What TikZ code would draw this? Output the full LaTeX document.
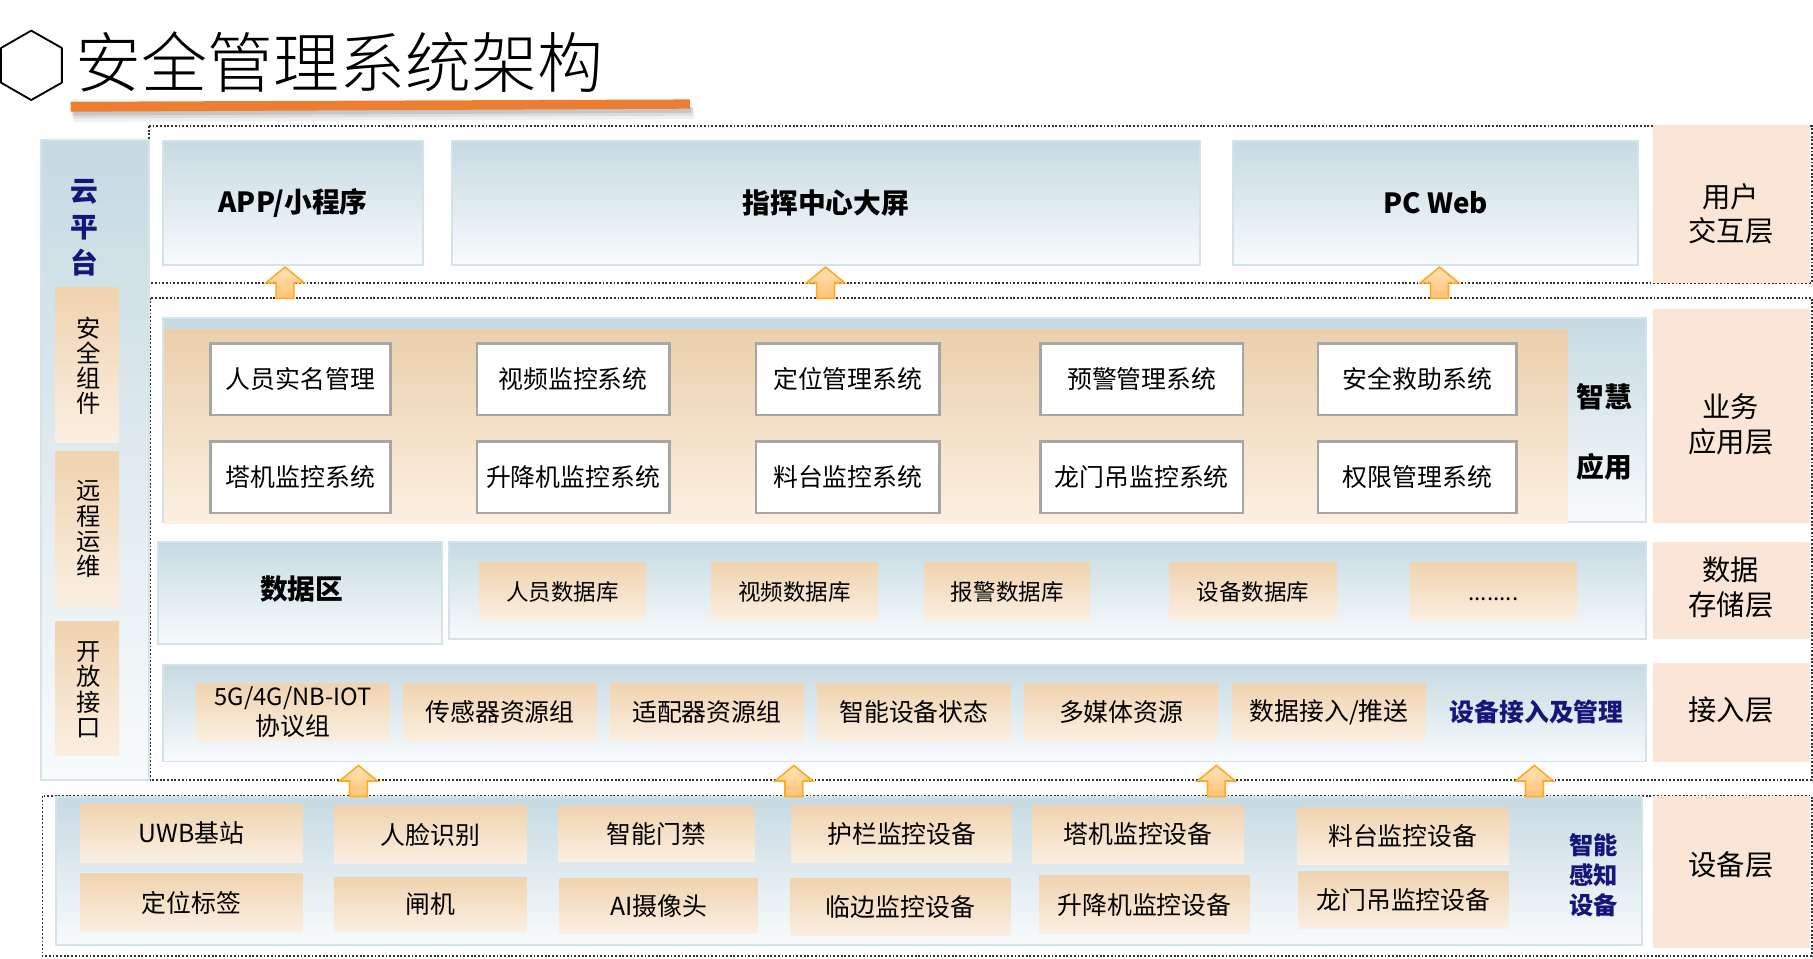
\documentclass[tikz,border=0pt]{standalone}
\usepackage{fontspec}
\setmainfont{Noto Sans CJK SC}
\newfontfamily\titlefont{Noto Sans CJK SC Light}
\definecolor{blueT}{HTML}{C6DAE2}
\definecolor{blueB}{HTML}{F8FBFC}
\definecolor{bluebd}{HTML}{D3E3E9}
\definecolor{orT}{HTML}{F0D3AF}
\definecolor{orB}{HTML}{FBEFE2}
\definecolor{busT}{HTML}{EACFAC}
\definecolor{busB}{HTML}{FDF0E1}
\definecolor{peach}{HTML}{FBE5D6}
\definecolor{navy}{HTML}{15157A}
\definecolor{grayb}{HTML}{A6A6A6}
\definecolor{dotc}{HTML}{333333}
\definecolor{titleline}{HTML}{ED7D31}
\definecolor{arrT}{HTML}{FFE3B8}
\definecolor{arrB}{HTML}{FFC272}
\definecolor{arrD}{HTML}{FFA928}
\newcommand\fsz[2]{\fontsize{#1}{#2}\selectfont}
\newcommand\bx[7]{\node[#6, minimum width={(#4-#2)*1pt}, minimum height={(#5-#3)*1pt}] (#1) at ({(#2+#4)/2},{(#3+#5)/2}) {#7};}
\newcommand\uparr[3]{\path[uparrow] (#1-7.7,#3) -- (#1-7.7,{(#2+#3)/2}) -- (#1-16.4,{(#2+#3)/2}) -- (#1,#2) -- (#1+16.4,{(#2+#3)/2}) -- (#1+7.7,{(#2+#3)/2}) -- (#1+7.7,#3) -- cycle;}
\tikzset{
 box/.style={inner sep=0pt, outer sep=0pt, align=center},
 bluebox/.style={box, draw=bluebd, line width=1.7pt, top color=blueT, bottom color=blueB},
 orbox/.style={box, top color=orT, bottom color=orB, font=\fsz{21.5}{26}},
 dbbox/.style={box, top color=orT, bottom color=orB, font=\fsz{19.5}{24}},
 sysbox/.style={box, draw=grayb, line width=2.2pt, fill=white, font=\fsz{21.5}{26}},
 labbox/.style={box, fill=peach, font=\fsz{24.5}{30}},
 topbox/.style={bluebox, font=\bfseries\fsz{24}{28}},
 dotbox/.style={draw=dotc, line width=1.6pt, dash pattern=on 1.6pt off 1.6pt},
 uparrow/.style={draw=arrD, line width=1.4pt, top color=arrT, bottom color=arrB, line join=miter},
 navytxt/.style={inner sep=0pt, align=center, text=navy, font=\bfseries\fsz{21.5}{26}},
}
\begin{document}
\begin{tikzpicture}[x=1pt,y=-1pt]
\useasboundingbox (0,0) rectangle (1568,829.4);
% title
\draw[line width=1.6pt, line join=round, fill=white] (27,26.5) -- (53.5,41.5) -- (53.5,71.5) -- (27,86.5) -- (0.9,71.5) -- (0.9,41.5) -- cycle;
\node[inner sep=0pt, font=\titlefont\fsz{57}{60}] (title) at (293.5,54) {安全管理系统架构};
\fill[black, opacity=0.06] (64,95) -- (600,92.5) -- (600,103) -- (64,105.5) -- cycle;
\fill[black, opacity=0.08] (63,95) -- (599,92.5) -- (599,100) -- (63,102.5) -- cycle;
\fill[black, opacity=0.10] (62,95) -- (598,92.5) -- (598,97.5) -- (62,100) -- cycle;
\fill[titleline] (61,88) -- (596.6,86) -- (596.6,94) -- (61,96.6) -- cycle;
% dotted layer frames
\draw[dotbox] (128.6,109) rectangle (1566.8,244.5);
\draw[dotbox] (129.5,257.5) rectangle (1566.8,674.5);
\draw[dotbox] (36.7,688.6) rectangle (1566.8,827);
% layer labels
\bx{L1}{1429.5}{108}{1565.5}{244.5}{labbox}{}
\bx{L2}{1429.5}{267.5}{1565.5}{452.6}{labbox}{}
\bx{L3}{1429.5}{468.5}{1565.5}{553}{labbox}{}
\bx{L4}{1429.5}{573.7}{1565.5}{658.8}{labbox}{}
\bx{L5}{1429.5}{688.6}{1565.5}{820}{labbox}{}
\node[inner sep=0pt, align=center, font=\fsz{24.5}{30}] (L1t) at (1497,185) {用户\\交互层};
\node[inner sep=0pt, align=center, font=\fsz{24.5}{30}] (L2t) at (1497,367) {业务\\应用层};
\node[inner sep=0pt, align=center, font=\fsz{24.5}{30}] (L3t) at (1497,508) {数据\\存储层};
\node[inner sep=0pt, align=center, font=\fsz{24.5}{30}] (L4t) at (1497,614) {接入层};
\node[inner sep=0pt, align=center, font=\fsz{24.5}{30}] (L5t) at (1497,748) {设备层};
% cloud platform column
\bx{cloud}{35.5}{121}{129}{674.5}{bluebox}{}
\node[inner sep=0pt, align=center, text=navy, font=\bfseries\fsz{24}{31}] (cloudt) at (73,197) {云\\平\\台};
\bx{c1}{48}{249}{103}{383}{orbox}{}
\bx{c2}{48}{390.6}{103}{524.7}{orbox}{}
\bx{c3}{48}{537.7}{103}{653}{orbox}{}
\node[inner sep=0pt, align=center, font=\fsz{21}{21.8}] (c1t) at (76.5,316.4) {安\\全\\组\\件};
\node[inner sep=0pt, align=center, font=\fsz{21}{21.8}] (c2t) at (76.5,457.6) {远\\程\\运\\维};
\node[inner sep=0pt, align=center, font=\fsz{21}{21.8}] (c3t) at (76.5,596.5) {开\\放\\接\\口};
% user interaction layer
\bx{u1}{141}{122}{366}{229}{topbox}{APP/小程序}
\bx{u2}{390.5}{122}{1038}{229}{topbox}{指挥中心大屏}
\bx{u3}{1066.7}{122}{1417}{229}{topbox}{PC Web}
% business layer
\bx{biz}{141}{275.3}{1423.6}{451.5}{bluebox}{}
\path[top color=busT, bottom color=busB] (142,284.8) rectangle (1355.5,452.5);
\bx{s11}{182.2}{297.2}{337.5}{359}{sysbox}{人员实名管理}
\bx{s12}{412.4}{297.2}{578.8}{359}{sysbox}{视频监控系统}
\bx{s13}{654}{297.2}{812.5}{359}{sysbox}{定位管理系统}
\bx{s14}{900}{297.2}{1075}{359}{sysbox}{预警管理系统}
\bx{s15}{1140}{297.2}{1311.6}{359}{sysbox}{安全救助系统}
\bx{s21}{182.2}{382}{337.5}{443.8}{sysbox}{塔机监控系统}
\bx{s22}{412.4}{382}{578.8}{443.8}{sysbox}{升降机监控系统}
\bx{s23}{654}{382}{812.5}{443.8}{sysbox}{料台监控系统}
\bx{s24}{900}{382}{1075}{443.8}{sysbox}{龙门吊监控系统}
\bx{s25}{1140}{382}{1311.6}{443.8}{sysbox}{权限管理系统}
\node[inner sep=0pt, font=\bfseries\fsz{24}{28}] (zh1) at (1387.7,343) {智慧};
\node[inner sep=0pt, font=\bfseries\fsz{24}{28}] (zh2) at (1387.7,403.6) {应用};
% data layer
\bx{d0}{136.3}{468.5}{382.3}{557}{bluebox}{}
\node[inner sep=0pt, font=\bfseries\fsz{24}{28}] (d0t) at (261,509) {数据区};
\bx{d1}{388}{468.5}{1423.6}{553}{bluebox}{}
\bx{db1}{414.3}{486.8}{558.7}{537}{dbbox}{人员数据库}
\bx{db2}{615}{486.8}{759.4}{537}{dbbox}{视频数据库}
\bx{db3}{799.6}{486.8}{942.7}{537}{dbbox}{报警数据库}
\bx{db4}{1011.6}{486.8}{1156}{537}{dbbox}{设备数据库}
\bx{db5}{1219.5}{486.8}{1363.5}{537}{dbbox}{\vphantom{人}........}
% access layer
\bx{a0}{141}{575}{1423.6}{658.6}{bluebox}{}
\bx{a1}{170}{591}{337}{641.3}{orbox}{\fsz{20.5}{26}5G/4G/NB-IOT\\协议组}
\bx{a2}{348.6}{591}{516.3}{641.3}{orbox}{传感器资源组}
\bx{a3}{527.6}{591}{695}{641.3}{orbox}{适配器资源组}
\bx{a4}{706.6}{591}{874.2}{641.3}{orbox}{智能设备状态}
\bx{a5}{886}{591}{1053.4}{641.3}{orbox}{多媒体资源}
\bx{a6}{1066}{591}{1233}{641.3}{orbox}{数据接入/推送}
\node[navytxt] (a0t) at (1329,616) {设备接入及管理};
% device layer
\bx{dev}{48.3}{689}{1420}{817.5}{bluebox}{}
\bx{e11}{69.5}{695.4}{261.8}{746}{orbox}{UWB基站}
\bx{e21}{69.5}{755.3}{261.8}{805.8}{orbox}{定位标签}
\bx{e12}{288.8}{696.8}{455.6}{747}{orbox}{人脸识别}
\bx{e22}{288.8}{758.8}{455.6}{805.8}{orbox}{闸机}
\bx{e13}{482.7}{697.4}{652.8}{745}{orbox}{智能门禁}
\bx{e23}{484}{760.2}{655.3}{807}{orbox}{AI摄像头}
\bx{e14}{684.7}{696.6}{875.3}{746.3}{orbox}{护栏监控设备}
\bx{e24}{683.3}{760.2}{874.2}{809.3}{orbox}{临边监控设备}
\bx{e15}{893}{696.8}{1075.5}{746.7}{orbox}{塔机监控设备}
\bx{e25}{898.6}{757.6}{1081}{807.2}{orbox}{升降机监控设备}
\bx{e16}{1122}{698.2}{1304.5}{747.8}{orbox}{料台监控设备}
\bx{e26}{1122.6}{753.3}{1305}{803.2}{orbox}{龙门吊监控设备}
\node[navytxt, font=\bfseries\fsz{21}{26}] (devt) at (1378,757) {智能\\感知\\设备};
% arrows between layers
\uparr{246.5}{231}{258}
\uparr{714}{231}{258}
\uparr{1245}{231}{258}
\uparr{310}{662}{689}
\uparr{686.6}{662}{689}
\uparr{1052}{662}{689}
\uparr{1327}{662}{689}
\end{tikzpicture}
\end{document}
